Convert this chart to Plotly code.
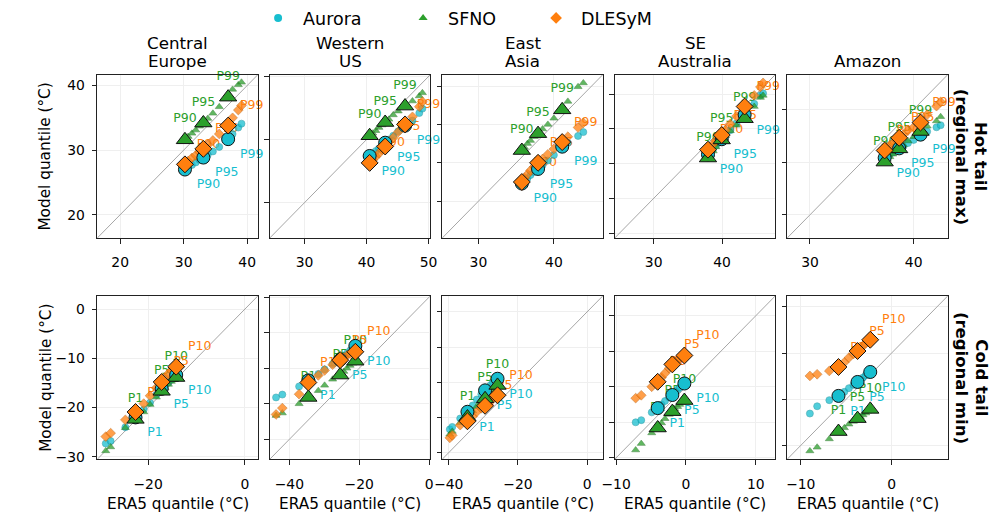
import plotly.graph_objects as go

# ---------------- data ----------------
MODELS = ["Aurora", "SFNO", "DLESyM"]
REGION_TITLES = [["Central", "Europe"], ["Western", "US"], ["East", "Asia"], ["SE", "Australia"], ["Amazon"]]
ROW_LABELS = [["Hot tail", "(regional max)"], ["Cold tail", "(regional min)"]]

HOT_Q = [90, 91, 92, 93, 94, 95, 96, 97, 98, 99, 99.5, 99.8, 99.9]
COLD_Q = [0.1, 0.2, 0.5, 1, 2, 3, 4, 5, 6, 7, 8, 9, 10]
HOT_KEY = [90, 95, 99]
COLD_KEY = [1, 5, 10]

# Central Europe - hot
ce_hot_era5 = [30.2, 30.7, 31.3, 31.9, 32.5, 33.1, 33.8, 34.6, 35.6, 37.0, 37.7, 38.6, 39.1]
ce_hot_aurora = [27.0, 27.3, 27.7, 28.1, 28.5, 28.85, 29.3, 29.8, 30.5, 31.7, 32.5, 33.5, 34.1]
ce_hot_sfno = [31.6, 32.1, 32.6, 33.1, 33.7, 34.2, 34.9, 35.7, 36.7, 38.2, 39.4, 40.1, 40.5]
ce_hot_dlesym = [27.8, 28.3, 28.8, 29.2, 29.7, 30.2, 30.8, 31.5, 32.5, 33.8, 35.0, 36.2, 36.9]
# Western US - hot
wus_hot_era5 = [40.5, 41.0, 41.5, 42.0, 42.5, 43.0, 43.6, 44.3, 45.1, 46.2, 47.4, 48.5, 49.0]
wus_hot_aurora = [37.4, 37.8, 38.2, 38.6, 39.1, 39.5, 40.0, 40.6, 41.3, 42.2, 43.0, 44.2, 44.9]
wus_hot_sfno = [40.6, 41.0, 41.4, 41.9, 42.3, 42.7, 43.2, 43.9, 44.5, 45.3, 46.1, 46.9, 47.4]
wus_hot_dlesym = [36.3, 36.8, 37.3, 37.8, 38.4, 38.9, 39.6, 40.3, 41.2, 42.4, 43.6, 45.2, 46.0]
# East Asia - hot
ea_hot_era5 = [35.75, 36.1, 36.5, 36.9, 37.4, 37.9, 38.5, 39.2, 40.0, 41.1, 41.85, 43.2, 43.9]
ea_hot_aurora = [32.3, 32.6, 33.0, 33.4, 33.8, 34.2, 34.7, 35.3, 36.0, 37.1, 37.6, 38.5, 39.0]
ea_hot_sfno = [36.6, 37.0, 37.5, 37.9, 38.4, 38.8, 39.4, 40.0, 40.8, 41.9, 43.0, 44.9, 45.4]
ea_hot_dlesym = [32.5, 33.0, 33.5, 34.0, 34.5, 35.0, 35.5, 36.1, 36.8, 37.7, 38.4, 39.6, 40.2]
# SE Australia - hot
sea_hot_era5 = [37.94, 38.3, 38.7, 39.1, 39.5, 39.95, 40.5, 41.2, 42.1, 43.3, 44.7, 45.6, 46.0]
sea_hot_aurora = [36.3, 36.7, 37.1, 37.6, 38.0, 38.5, 39.1, 39.8, 40.8, 42.0, 43.6, 44.8, 45.1]
sea_hot_sfno = [35.8, 36.3, 36.8, 37.4, 37.9, 38.4, 39.0, 39.7, 40.5, 41.45, 43.2, 44.5, 44.8]
sea_hot_dlesym = [37.0, 37.4, 37.8, 38.3, 38.7, 39.1, 39.8, 40.7, 41.8, 43.2, 44.8, 46.0, 46.6]
# Amazon - hot
amz_hot_era5 = [37.2, 37.45, 37.7, 38.0, 38.3, 38.6, 39.0, 39.45, 40.0, 40.66, 41.3, 42.2, 42.6]
amz_hot_aurora = [35.4, 35.6, 35.8, 35.9, 36.1, 36.3, 36.5, 36.8, 37.1, 37.6, 37.9, 38.3, 38.5]
amz_hot_sfno = [35.0, 35.25, 35.5, 35.75, 36.0, 36.25, 36.6, 37.0, 37.4, 37.9, 38.4, 38.9, 39.3]
amz_hot_dlesym = [36.1, 36.3, 36.6, 36.8, 37.1, 37.3, 37.6, 38.0, 38.3, 38.75, 39.5, 40.3, 40.7]

# Central Europe - cold
ce_cold_era5 = [-28.75, -27.74, -24.7, -22.6, -20.9, -19.6, -18.3, -17.2, -16.5, -15.8, -15.2, -14.7, -14.2]
ce_cold_aurora = [-27.3, -26.8, -24.0, -22.0, -20.4, -19.0, -17.4, -16.2, -15.6, -14.9, -14.3, -13.8, -13.4]
ce_cold_sfno = [-28.8, -28.0, -24.1, -22.4, -20.9, -19.4, -17.9, -16.7, -16.0, -15.3, -14.7, -14.3, -13.9]
ce_cold_dlesym = [-25.9, -25.2, -22.5, -20.9, -19.2, -17.6, -16.0, -14.8, -13.9, -13.1, -12.5, -12.1, -11.7]
# Western US - cold
wus_cold_era5 = [-43.8, -42.0, -37.2, -34.55, -31.7, -29.9, -27.6, -25.45, -24.4, -23.5, -22.6, -21.8, -21.1]
wus_cold_aurora = [-28.2, -27.4, -25.1, -23.4, -21.6, -20.3, -18.8, -17.6, -16.6, -15.8, -15.0, -14.3, -13.7]
wus_cold_sfno = [-33.3, -32.6, -30.0, -28.2, -26.3, -24.8, -23.1, -21.9, -20.9, -20.0, -19.2, -18.6, -18.0]
wus_cold_dlesym = [-33.0, -31.2, -27.3, -24.0, -22.0, -20.6, -19.0, -17.7, -17.0, -16.4, -15.9, -15.6, -15.35]
# East Asia - cold
ea_cold_era5 = [-39.7, -39.0, -36.7, -34.6, -33.1, -31.9, -30.6, -29.5, -28.7, -27.9, -27.2, -26.5, -25.9]
ea_cold_aurora = [-33.4, -32.7, -30.3, -28.4, -26.6, -24.9, -23.4, -22.3, -21.5, -20.8, -20.1, -19.5, -19.0]
ea_cold_sfno = [-34.8, -34.0, -31.5, -29.9, -28.2, -26.9, -25.7, -24.7, -23.9, -23.1, -22.3, -21.6, -20.9]
ea_cold_dlesym = [-35.8, -35.1, -32.2, -31.1, -29.7, -28.4, -27.4, -26.7, -26.0, -25.3, -24.6, -24.1, -23.7]
# SE Australia - cold
sea_cold_era5 = [-7.2, -6.4, -4.9, -4.05, -3.5, -3.0, -2.4, -1.95, -1.6, -1.2, -0.9, -0.55, -0.23]
sea_cold_aurora = [-5.0, -4.7, -3.6, -3.0, -2.5, -2.0, -1.5, -1.16, -0.8, -0.4, -0.1, 0.2, 0.46]
sea_cold_sfno = [-8.9, -8.0, -6.5, -5.8, -5.1, -4.5, -3.9, -3.5, -3.1, -2.8, -2.5, -2.2, -1.94]
sea_cold_dlesym = [-1.6, -1.2, 0.0, 0.7, 1.3, 1.9, 2.6, 3.15, 3.5, 3.8, 4.0, 4.2, 4.4]
# Amazon - cold
amz_cold_era5 = [-9.0, -8.2, -6.86, -5.85, -5.2, -4.7, -4.2, -3.75, -3.45, -3.15, -2.85, -2.6, -2.35]
amz_cold_aurora = [-6.55, -5.76, -5.1, -4.64, -4.2, -3.8, -3.45, -3.13, -2.9, -2.65, -2.4, -2.2, -2.05]
amz_cold_sfno = [-10.6, -10.2, -9.3, -8.5, -8.1, -7.7, -7.4, -7.1, -6.9, -6.7, -6.5, -6.3, -6.1]
amz_cold_dlesym = [-2.48, -2.3, -1.94, -1.51, -1.0, -0.5, -0.1, 0.22, 0.5, 0.8, 1.05, 1.25, 1.44]

# axis ranges and ticks per panel (row-major)
AX_RANGES = [(16.4, 41.7), (24.4, 50.3), (25.2, 46.5), (24.3, 47.8), (27.8, 43.3),
             (-30.5, 2.7), (-45.6, 0.4), (-41.9, 4.6), (-10.2, 12.8), (-11.5, 6.2)]
X_TICKS = [[20, 30, 40], [30, 40, 50], [30, 40], [30, 40], [30, 40],
           [-20, 0], [-40, -20, 0], [-40, -20, 0], [-10, 0, 10], [-10, 0]]
Y_TICKS = [[20, 30, 40], [30, 40, 50], [30, 35, 40, 45], [25, 30, 35, 40, 45], [30, 35, 40],
           [-30, -20, -10, 0], [-40, -30, -20, -10, 0], [-40, -30, -20, -10, 0],
           [-10, -5, 0, 5, 10], [-10, -5, 0, 5]]

panels = [
    (HOT_Q, HOT_KEY, ce_hot_era5, [ce_hot_aurora, ce_hot_sfno, ce_hot_dlesym]),
    (HOT_Q, HOT_KEY, wus_hot_era5, [wus_hot_aurora, wus_hot_sfno, wus_hot_dlesym]),
    (HOT_Q, HOT_KEY, ea_hot_era5, [ea_hot_aurora, ea_hot_sfno, ea_hot_dlesym]),
    (HOT_Q, HOT_KEY, sea_hot_era5, [sea_hot_aurora, sea_hot_sfno, sea_hot_dlesym]),
    (HOT_Q, HOT_KEY, amz_hot_era5, [amz_hot_aurora, amz_hot_sfno, amz_hot_dlesym]),
    (COLD_Q, COLD_KEY, ce_cold_era5, [ce_cold_aurora, ce_cold_sfno, ce_cold_dlesym]),
    (COLD_Q, COLD_KEY, wus_cold_era5, [wus_cold_aurora, wus_cold_sfno, wus_cold_dlesym]),
    (COLD_Q, COLD_KEY, ea_cold_era5, [ea_cold_aurora, ea_cold_sfno, ea_cold_dlesym]),
    (COLD_Q, COLD_KEY, sea_cold_era5, [sea_cold_aurora, sea_cold_sfno, sea_cold_dlesym]),
    (COLD_Q, COLD_KEY, amz_cold_era5, [amz_cold_aurora, amz_cold_sfno, amz_cold_dlesym]),
]

# ---------------- style / layout ----------------
STYLE = {
    "Aurora": dict(color="#17becf", edge="#0e8d99", symbol="circle", small=7, big=13,
                   loff=(12, -16), tpos="middle right", leg=8),
    "SFNO": dict(color="#2ca02c", edge="#1d6e1d", symbol="triangle-up", small=7, big=15,
                 loff=(0, 21), tpos="middle center", leg=8),
    "DLESyM": dict(color="#ff7f0e", edge="#b85a05", symbol="diamond", small=7.5, big=13,
                   loff=(12, 20), tpos="middle right", leg=9),
}
FONT = "DejaVu Sans"
W, H = 999, 523
COL_LEFT = [86, 262, 438, 614, 790]
ROW_TOP = [70, 296]
PW, PH = 164, 167

fig = go.Figure()
layout = dict(width=W, height=H, margin=dict(l=0, r=0, t=0, b=0),
              paper_bgcolor="white", plot_bgcolor="white",
              font=dict(family=FONT, color="#000"), annotations=[])

for idx, (qs, keys, era5, model_vals) in enumerate(panels):
    r, c = divmod(idx, 5)
    n = idx + 1
    xa, ya = f"x{n}", f"y{n}"
    lo, hi = AX_RANGES[idx]
    dpx_x = (hi - lo) / PW
    dpx_y = (hi - lo) / PH

    # 1:1 line
    fig.add_trace(go.Scatter(x=[lo, hi], y=[lo, hi], mode="lines", xaxis=xa, yaxis=ya,
                             line=dict(color="#a6a6a6", width=1), showlegend=False,
                             hoverinfo="skip"))
    kidx = [i for i, q in enumerate(qs) if q in keys]
    klabels = ["P%g" % qs[i] for i in kidx]
    # labels (drawn below markers, not clipped to the axes)
    for m, vals in zip(MODELS, model_vals):
        st = STYLE[m]
        fig.add_trace(go.Scatter(
            x=[era5[i] + st["loff"][0] * dpx_x for i in kidx],
            y=[vals[i] + st["loff"][1] * dpx_y for i in kidx],
            text=klabels, mode="text", textposition=st["tpos"], cliponaxis=False,
            textfont=dict(family=FONT, size=12.5, color=st["color"]),
            xaxis=xa, yaxis=ya, showlegend=False, hoverinfo="skip"))
    # small markers (all quantiles)
    for m, vals in zip(MODELS, model_vals):
        st = STYLE[m]
        fig.add_trace(go.Scatter(
            x=era5, y=vals, mode="markers", xaxis=xa, yaxis=ya, showlegend=False,
            marker=dict(symbol=st["symbol"], size=st["small"], color=st["color"],
                        opacity=0.75, line=dict(color=st["edge"], width=0.6))))
    # big markers (key quantiles)
    for m, vals in zip(MODELS, model_vals):
        st = STYLE[m]
        fig.add_trace(go.Scatter(
            x=[era5[i] for i in kidx], y=[vals[i] for i in kidx], mode="markers",
            xaxis=xa, yaxis=ya, showlegend=False,
            marker=dict(symbol=st["symbol"], size=st["big"], color=st["color"],
                        line=dict(color="#111", width=1))))

    axis_common = dict(range=[lo, hi], showgrid=True, gridcolor="#efefef", gridwidth=0.8,
                       zeroline=False, showline=True, mirror=True, linecolor="#222",
                       linewidth=1.2, ticks="outside", ticklen=4.5, tickwidth=1.1,
                       tickcolor="#222", tickfont=dict(family=FONT, size=13.9, color="#000"))
    layout[f"xaxis{n}"] = dict(axis_common, domain=[COL_LEFT[c] / W, (COL_LEFT[c] + PW) / W],
                               anchor=ya, tickvals=X_TICKS[idx], ticklabelstandoff=7)
    layout[f"yaxis{n}"] = dict(axis_common,
                               domain=[1 - (ROW_TOP[r] + PH) / H, 1 - ROW_TOP[r] / H],
                               anchor=xa, tickvals=Y_TICKS[idx], showticklabels=(c == 0),
                               ticklabelstandoff=4)

# legend-only traces
LEG_W = [90, 78, 75]
for m, lw in zip(MODELS, LEG_W):
    st = STYLE[m]
    fig.add_trace(go.Scatter(x=[None], y=[None], mode="markers", name=m, xaxis="x1", yaxis="y1",
                             legendwidth=lw,
                             marker=dict(symbol=st["symbol"], size=st["leg"], color=st["color"])))

layout["legend"] = dict(orientation="h", x=245 / W, xanchor="left", y=1 - 12 / H,
                        yanchor="middle", font=dict(family=FONT, size=17.5, color="#000"),
                        bgcolor="rgba(0,0,0,0)", itemwidth=40)

ann = layout["annotations"]


def add_text(text, xpx, ypx, size, angle=0, bold=False):
    ann.append(dict(text=("<b>%s</b>" % text) if bold else text, x=xpx / W, y=1 - ypx / H,
                    xref="paper", yref="paper", xanchor="center", yanchor="middle",
                    textangle=angle, showarrow=False,
                    font=dict(family=FONT, size=size, color="#000")))


for c, lines in enumerate(REGION_TITLES):
    xc = COL_LEFT[c] + PW / 2
    ys = [38, 56] if len(lines) == 2 else [56]
    for line, yp in zip(lines, ys):
        add_text(line, xc, yp, 16.7)
    add_text("ERA5 quantile (°C)", xc, 509, 15.3)

for r, lines in enumerate(ROW_LABELS):
    yc = ROW_TOP[r] + PH / 2
    add_text("Model quantile (°C)", 33, yc, 15.3, angle=-90)
    add_text(lines[0], 988, yc, 16.5, angle=90, bold=True)
    add_text(lines[1], 968, yc, 16.5, angle=90, bold=True)

fig.update_layout(**layout)
fig.write_html("out.html")
